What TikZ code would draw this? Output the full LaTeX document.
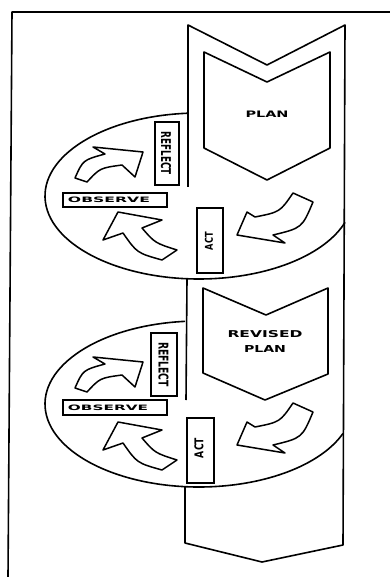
\documentclass[tikz,border=0pt]{standalone}
\usepackage{fontspec}
\setmainfont{DejaVu Sans}
\usepackage{graphicx}
\newcommand{\fitlbl}[3]{\resizebox{#1pt}{#2pt}{\bfseries #3}}
\tikzset{
  outline/.style={draw=black, line width=1.6pt, line join=round},
  boxframe/.style={draw=black, fill=white, line width=1.4pt},
  blockarrow/.style={draw=black, fill=white, line width=1.5pt, line join=round},
  lbl/.style={inner sep=0pt, outer sep=0pt},
  arrowA/.pic={\draw[blockarrow] (75,178) .. controls (83,160) .. (105,154) -- (93,147) -- (143,152) -- (135,177) -- (122,165) .. controls (100,168) .. (87,182) -- cycle;},
  arrowB/.pic={\draw[blockarrow] (118,212) -- (162,220) -- (142,228) .. controls (155,243) .. (177,250) -- (162,260) .. controls (137,253) .. (123,233) -- (103,240) -- cycle;},
  arrowC/.pic={\draw[blockarrow] (293,193) -- (313,202) .. controls (302,228) .. (273,235) -- (285,243) -- (237,235) -- (247,212) -- (255,217) .. controls (280,212) .. cycle;}
}
\begin{document}
\begin{tikzpicture}[x=1pt,y=-1pt]
\useasboundingbox (0,0) rectangle (390,577);
\fill[white] (0,0) rectangle (390,577);

% frame
\draw[outline] (390,12) -- (12,12) -- (8,577);

% column
\draw[outline] (188,187) -- (188,25) -- (267,65) -- (345,25) -- (343,545) -- (262,562) -- (185,543) -- (185,487);
\draw[outline] (187,279) -- (186,400);

% loops
\draw[outline] (199,196) ++(94.1:154pt and 83pt) arc[start angle=94.1, end angle=341.5, x radius=154pt, y radius=83pt];
\draw[outline] (199,404) ++(95.2:154pt and 83pt) arc[start angle=95.2, end angle=339.2, x radius=154pt, y radius=83pt];

% plan shapes
\draw[outline] (204,52) -- (267,82) -- (330,52) -- (330,148) -- (267,180) -- (204,148) -- cycle;
\draw[outline] (203,288) -- (266,315) -- (328,288) -- (328,374) -- (265,400) -- (203,373) -- cycle;

% boxes
\draw[boxframe] (155,122) rectangle (179,185);
\draw[boxframe] (63,193) rectangle (167,207);
\draw[boxframe] (197,208) rectangle (223,273);
\draw[boxframe] (151,333) rectangle (177,396);
\draw[boxframe] (63,400) rectangle (167,415);
\draw[boxframe] (187,418) rectangle (214,483);

% arrows
\pic at (0,0) {arrowA};
\pic at (0,0) {arrowB};
\pic at (0,0) {arrowC};
\pic at (0,210) {arrowA};
\pic at (0,210) {arrowB};
\pic at (0,210) {arrowC};

% labels
\node[lbl] (plan1) at (267,114) {\fitlbl{43}{6.5}{PLAN}};
\node[lbl] (revised) at (265,334) {\fitlbl{75}{7}{REVISED}};
\node[lbl] (plan2) at (265,349) {\fitlbl{42}{7}{PLAN}};
\node[lbl, rotate=-90] (reflect1) at (166,153.5) {\fitlbl{43}{10}{REFLECT}};
\node[lbl] (observe1) at (109,200) {\fitlbl{82}{5.5}{OBSERVE}};
\node[lbl, rotate=90] (act1) at (209,241) {\fitlbl{18}{8}{ACT}};
\node[lbl, rotate=-90] (reflect2) at (163.5,364.5) {\fitlbl{45}{10}{REFLECT}};
\node[lbl] (observe2) at (108,407.5) {\fitlbl{80}{5.5}{OBSERVE}};
\node[lbl, rotate=90] (act2) at (199,448) {\fitlbl{20}{9}{ACT}};
\end{tikzpicture}
\end{document}
